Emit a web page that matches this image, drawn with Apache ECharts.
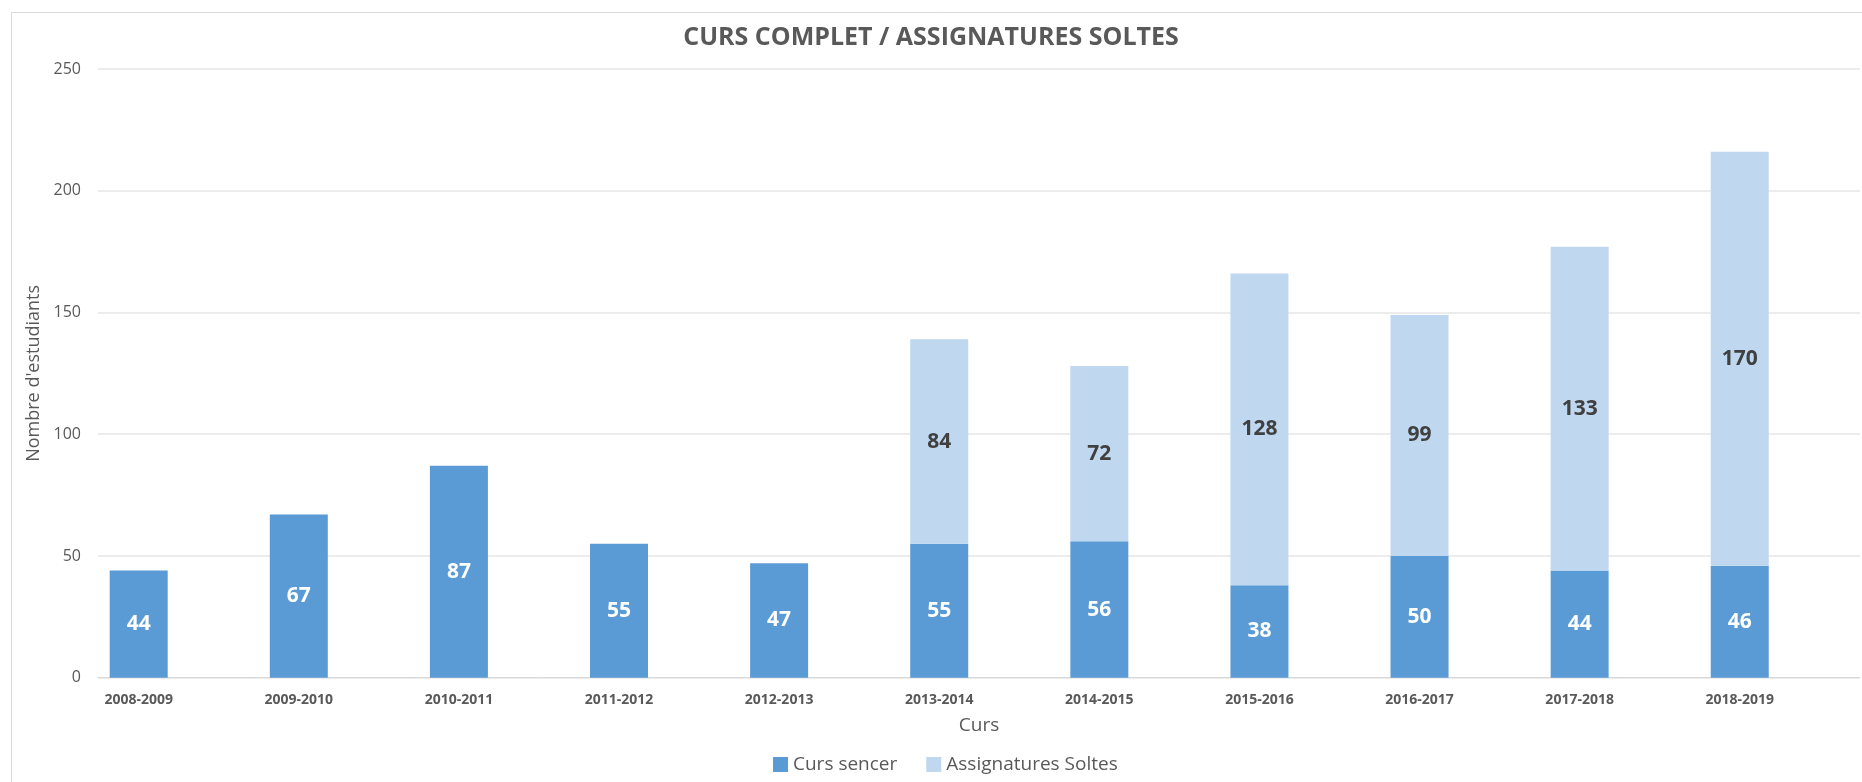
<!DOCTYPE html>
<html>
<head>
<meta charset="utf-8">
<script src="https://cdn.jsdelivr.net/npm/echarts@6/dist/echarts.min.js"></script>
<style>
html,body{margin:0;padding:0;background:#fff;}
#chart{width:1862px;height:782px;}
</style>
</head>
<body>
<div id="chart"></div>
<script>
const categories = ['2008-2009','2009-2010','2010-2011','2011-2012','2012-2013','2013-2014','2014-2015','2015-2016','2016-2017','2017-2018','2018-2019'];
const cursSencer = [44, 67, 87, 55, 47, 55, 56, 38, 50, 44, 46];
const assignaturesSoltes = [null, null, null, null, null, 84, 72, 128, 99, 133, 170];
const yTicks = { min: 0, max: 250, interval: 50 };

const FONT = '"Open Sans", "Noto Sans", sans-serif';
const chart = echarts.init(document.getElementById('chart'));
chart.setOption({
  animation: false,
  backgroundColor: '#ffffff',
  textStyle: { fontFamily: FONT },
  title: {
    text: 'CURS COMPLET / ASSIGNATURES SOLTES',
    left: 'center',
    top: 20,
    textStyle: { fontFamily: FONT, fontSize: 25, fontWeight: 'bold', color: '#595959' }
  },
  graphic: [{
    type: 'rect',
    shape: { x: 11.5, y: 12.5, width: 1900, height: 900 },
    style: { fill: 'none', stroke: '#d9d9d9', lineWidth: 1 },
    silent: true, z: -10
  }],
  legend: {
    data: ['Curs sencer', 'Assignatures Soltes'],
    left: 768,
    top: 750,
    icon: 'rect',
    itemWidth: 15,
    itemHeight: 15,
    itemGap: 29,
    textStyle: { fontFamily: FONT, fontSize: 19, color: '#595959' }
  },
  grid: [
    { left: 58.65, right: 42.2, top: 69, bottom: 104.3 },
    { left: 98, right: 2, top: 69, bottom: 104.3 }
  ],
  xAxis: [
    {
      type: 'category', gridIndex: 0, data: categories,
      axisLine: { show: false }, axisTick: { show: false },
      axisLabel: { margin: 15, fontFamily: FONT, fontSize: 14, fontWeight: 'bold', color: '#595959' }
    },
    {
      type: 'category', gridIndex: 1, data: categories,
      axisLine: { show: true, lineStyle: { color: '#d9d9d9', width: 1 } },
      axisTick: { show: false }, axisLabel: { show: false },
      name: 'Curs', nameLocation: 'middle', nameGap: 38,
      nameTextStyle: { fontFamily: FONT, fontSize: 19, color: '#595959' }
    }
  ],
  yAxis: [
    {
      type: 'value', gridIndex: 0, min: yTicks.min, max: yTicks.max, interval: yTicks.interval,
      show: false, splitLine: { show: false }
    },
    {
      type: 'value', gridIndex: 1, min: yTicks.min, max: yTicks.max, interval: yTicks.interval,
      axisLine: { show: false }, axisTick: { show: false },
      axisLabel: { margin: 17, fontFamily: FONT, fontSize: 16, color: '#595959' },
      splitLine: { show: true, lineStyle: { color: '#e6e6e6', width: 1.5 } },
      name: "Nombre d'estudiants", nameLocation: 'middle', nameGap: 46,
      nameTextStyle: { fontFamily: FONT, fontSize: 18, color: '#595959' }
    }
  ],
  series: [
    {
      name: 'Curs sencer', type: 'bar', stack: 'total', xAxisIndex: 0, yAxisIndex: 0,
      data: cursSencer, barWidth: 58,
      itemStyle: { color: '#5b9bd5' },
      label: { show: true, position: 'inside', fontFamily: FONT, fontSize: 21, fontWeight: 'bold', color: '#ffffff' }
    },
    {
      name: 'Assignatures Soltes', type: 'bar', stack: 'total', xAxisIndex: 0, yAxisIndex: 0,
      data: assignaturesSoltes, barWidth: 58,
      itemStyle: { color: '#bfd7ef' },
      label: { show: true, position: 'inside', fontFamily: FONT, fontSize: 21, fontWeight: 'bold', color: '#404040' }
    }
  ]
});
</script>
</body>
</html>
